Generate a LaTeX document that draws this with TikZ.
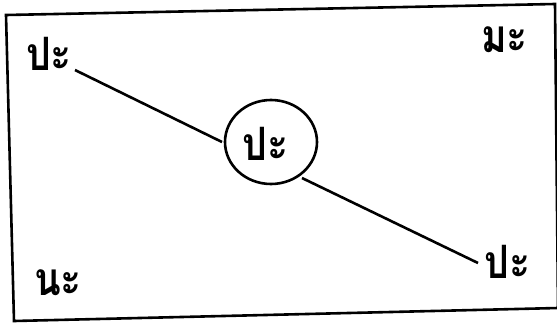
\documentclass[tikz,border=0pt]{standalone}
\usepackage{fontspec}
\newfontfamily\thaifont[Script=Thai]{Loma}
\tikzset{
  thai/.style={font=\thaifont\bfseries\fontsize{46}{48}\selectfont, inner sep=0pt, anchor=base west, xscale=0.85},
  ink/.style={line width=2.6pt, black},
}
\begin{document}
\begin{tikzpicture}[x=1pt,y=-1pt]
\useasboundingbox (0,0) rectangle (557,325);
\fill[white] (0,0) rectangle (557,325);
\clip (0,0) rectangle (557,325);
% frame
\draw[ink, line join=miter] (6,15) -- (555,4) -- (558,308) -- (14,321) -- cycle;
% labels
\node[thai] (tl) at (26,70) {ปะ};
\node[thai] (tr) at (481,52) {มะ};
\node[thai] (bl) at (34,295) {นะ};
\node[thai] (br) at (484,278) {ปะ};
\node[thai] (cx) at (242,160) {ปะ};
% circle
\draw[ink] (271,142) ellipse [x radius=46, y radius=42];
\coordinate (c) at (271,142);
% connectors
\coordinate (a1) at (75,70);
\coordinate (a2) at (222,142);
\coordinate (b1) at (302,178);
\coordinate (b2) at (478,263);
\draw[ink] (a1) -- (a2);
\draw[ink] (b1) -- (b2);
\end{tikzpicture}
\end{document}
